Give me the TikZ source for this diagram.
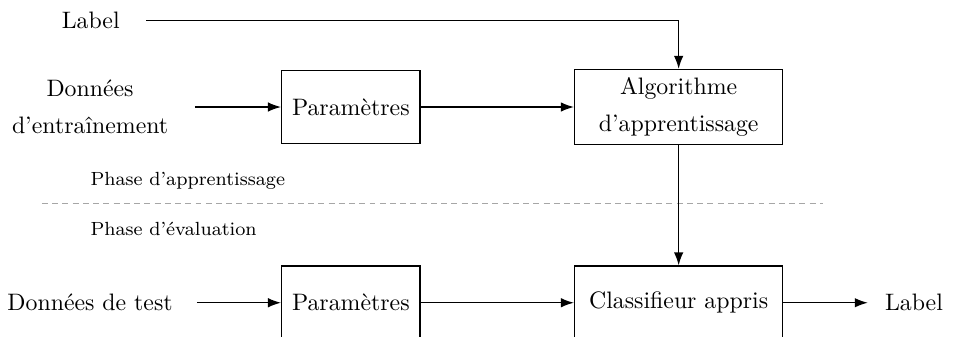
\documentclass[tikz,border=0pt]{standalone}
\usepackage{tikz}
\usetikzlibrary{positioning}
\usetikzlibrary{arrows.meta}

\begin{document}
\begin{tikzpicture}[
	bloc/.style={draw,semithick,minimum height=1.08cm,align=center},
	texte/.style={align=center,inner sep=0pt},
	phase/.style={anchor=west,inner sep=0pt,font=\footnotesize},
	fleche/.style={semithick,-{Latex[length=5.5pt,width=4pt]}},
	separation/.style={gray!70,thin,dash pattern=on 2.5pt off 1.8pt}]
	\useasboundingbox (0,0) rectangle (14.10,-4.97);
	% phase d'apprentissage
	\node[texte] (label1) at (1.34,-0.30) {Label};
	\node[texte] (donnees1) at (1.33,-1.58) {Données\\[3.5pt]d'entraînement};
	\node[bloc,minimum width=2.04cm] (param1) at (5.18,-1.58) {Paramètres};
	\node[bloc,minimum width=3.07cm] (algo) at (10.02,-1.58) {Algorithme\\[3.5pt]d'apprentissage};
	\draw[fleche,shorten <=11pt] (label1) -| (algo);
	\draw[fleche,shorten <=11pt] (donnees1) -- (param1);
	\draw[fleche] (param1) -- (algo);
	% separation
	\node[phase] (phaseA) at (1.33,-2.67) {Phase d'apprentissage};
	\coordinate (sepA) at (0.62,-3.01);
	\coordinate (sepB) at (12.15,-3.01);
	\draw[separation] (sepA) -- (sepB);
	\node[phase] (phaseE) at (1.33,-3.38) {Phase d'évaluation};
	% phase d'evaluation
	\node[texte] (donnees2) at (1.33,-4.47) {Données de test};
	\node[bloc,minimum width=2.04cm] (param2) at (5.18,-4.47) {Paramètres};
	\node[bloc,minimum width=3.07cm] (classif) at (10.02,-4.47) {Classifieur appris};
	\node[texte,anchor=west] (label2) at (13.06,-4.47) {Label};
	\draw[fleche] (algo) -- (classif);
	\draw[fleche,shorten <=10pt] (donnees2) -- (param2);
	\draw[fleche] (param2) -- (classif);
	\draw[fleche,shorten >=7pt] (classif) -- (label2);
\end{tikzpicture}
\end{document}
